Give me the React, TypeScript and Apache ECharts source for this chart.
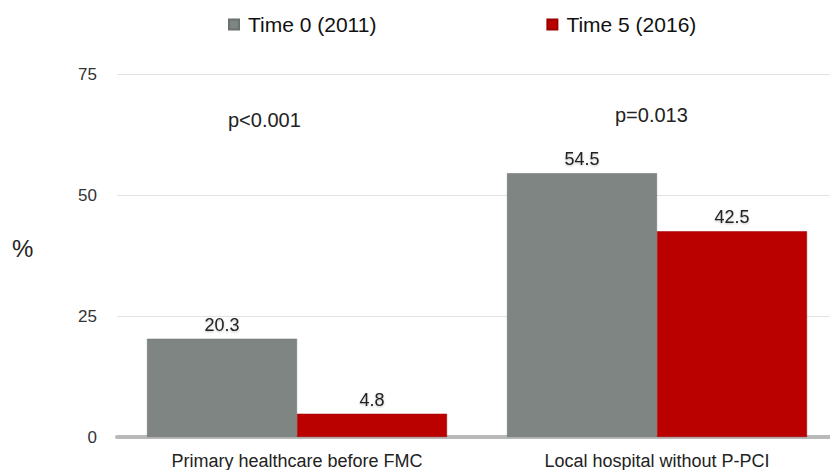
import React, { useEffect, useRef } from "react";
import * as echarts from "echarts";

const categories = ["Primary healthcare before FMC", "Local hospital without P-PCI"];
const time0 = [20.3, 54.5];
const time5 = [4.8, 42.5];
const seriesNames = ["Time 0 (2011)", "Time 5 (2016)"];
const pValues = ["p<0.001", "p=0.013"];
const yTicks = { min: 0, max: 75, interval: 25 };

const FONT = "'Liberation Sans', Arial, Helvetica, sans-serif";
const GRAY = "#7e8582";
const RED = "#bb0000";

export default function App() {
  const ref = useRef<HTMLDivElement>(null);
  useEffect(() => {
    if (!ref.current) return;
    const chart = echarts.init(ref.current, undefined, { renderer: "svg" });
    const labelStyle = {
      show: true,
      position: "top" as const,
      distance: 5,
      fontSize: 18,
      color: "#222",
      fontFamily: FONT,
      textShadowColor: "rgba(0,0,0,0.25)",
      textShadowBlur: 2,
      textShadowOffsetY: 1,
    };
    chart.setOption({
      animation: false,
      backgroundColor: "#ffffff",
      textStyle: { fontFamily: FONT },
      legend: {
        data: seriesNames,
        left: 228,
        top: 14,
        padding: 0,
        itemWidth: 10,
        itemHeight: 10,
        itemGap: 170,
        icon: "rect",
        textStyle: { fontSize: 21, color: "#111", fontFamily: FONT, padding: [3, 0, 0, 4] },
      },
      grid: { left: 117, top: 74, width: 720, bottom: 33, containLabel: false },
      xAxis: {
        type: "category",
        data: categories,
        axisTick: { show: false },
        axisLine: { show: true, lineStyle: { color: "#b9b9b9", width: 4 } },
        axisLabel: { fontSize: 18, color: "#222", margin: 15, fontFamily: FONT },
      },
      yAxis: {
        type: "value",
        min: yTicks.min,
        max: yTicks.max,
        interval: yTicks.interval,
        axisLine: { show: false },
        axisTick: { show: false },
        axisLabel: { fontSize: 17, color: "#333", margin: 20, fontFamily: FONT },
        splitLine: { show: true, lineStyle: { color: "#e2e2e2", width: 1 } },
      },
      series: [
        {
          name: seriesNames[0],
          type: "bar",
          data: time0,
          barWidth: 150,
          barGap: "0%",
          itemStyle: { color: GRAY, borderColor: "#6b716f", borderWidth: 0.5 },
          label: labelStyle,
        },
        {
          name: seriesNames[1],
          type: "bar",
          data: time5,
          barWidth: 150,
          barGap: "0%",
          itemStyle: { color: RED, borderColor: "#990000", borderWidth: 0.5 },
          label: labelStyle,
        },
      ],
      graphic: [
        {
          type: "text",
          left: 12,
          top: 236,
          style: { text: "%", fill: "#222", font: `24px ${FONT}` },
        },
        {
          type: "text",
          left: 228,
          top: 110,
          style: { text: pValues[0], fill: "#222", font: `20px ${FONT}` },
        },
        {
          type: "text",
          left: 615,
          top: 105,
          style: { text: pValues[1], fill: "#222", font: `20px ${FONT}` },
        },
      ],
    });
    return () => chart.dispose();
  }, []);
  return (
    <div
      ref={ref}
      style={{ position: "fixed", left: 0, top: 0, width: 840, height: 470 }}
    />
  );
}
